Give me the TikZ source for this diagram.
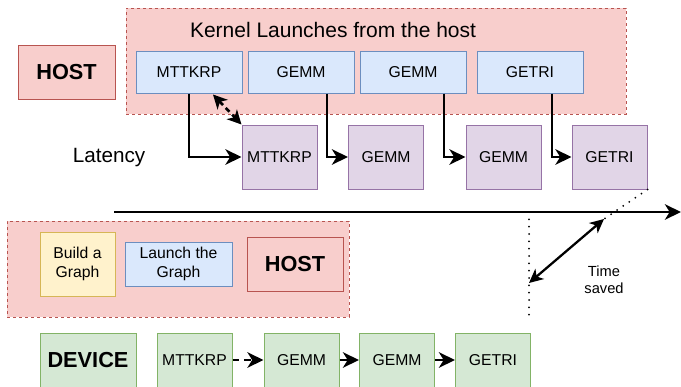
\documentclass[tikz,border=0pt]{standalone}
\usepackage{fontspec}
\setmainfont{Liberation Sans}
\usetikzlibrary{arrows.meta,calc}
\definecolor{redF}{HTML}{F8CECC}\definecolor{redD}{HTML}{B85450}
\definecolor{bluF}{HTML}{DAE8FC}\definecolor{bluD}{HTML}{6C8EBF}
\definecolor{purF}{HTML}{E1D5E7}\definecolor{purD}{HTML}{9673A6}
\definecolor{yelF}{HTML}{FFF2CC}\definecolor{yelD}{HTML}{D6B656}
\definecolor{grnF}{HTML}{D5E8D4}\definecolor{grnD}{HTML}{82B366}
\tikzset{
  boxbase/.style={rectangle, line width=0.75pt, inner sep=0pt, align=center, font=\fontsize{11.8}{14.2}\selectfont},
  container/.style={boxbase, fill=redF, draw=redD, dash pattern=on 2.25pt off 2.25pt},
  redbox/.style={boxbase, fill=redF, draw=redD},
  bluebox/.style={boxbase, fill=bluF, draw=bluD, minimum width=79.5pt, minimum height=31.5pt},
  purbox/.style={boxbase, fill=purF, draw=purD, minimum width=56.25pt, minimum height=48pt},
  grnbox/.style={boxbase, fill=grnF, draw=grnD, minimum width=56.25pt, minimum height=40.5pt},
  bigbold/.style={font=\fontsize{16.3}{19}\selectfont\bfseries},
  arr/.style={line width=2.1pt, -{Stealth[length=12pt,width=11.5pt,inset=3.5pt]}},
  dots/.style={line width=1.5pt, line cap=round, dash pattern=on 0pt off 5.5pt},
}
\begin{document}
\begin{tikzpicture}[x=0.75pt,y=-0.75pt]
\useasboundingbox (0,0) rectangle (681,386);
\clip (0,0) rectangle (681,386);
% top host region
\node[container, minimum width=375pt, minimum height=79.5pt] (hostreg) at (376,61) {};
\node[font=\fontsize{15.75}{18}\selectfont] (title) at (333,30) {Kernel Launches from the host};
\node[redbox, bigbold, minimum width=72.75pt, minimum height=40.5pt] (host1) at (66.5,72) {HOST};
\node[bluebox] (b1) at (189,72) {MTTKRP};
\node[bluebox] (b2) at (301,72) {GEMM};
\node[bluebox] (b3) at (413,72) {GEMM};
\node[bluebox] (b4) at (530,72) {GETRI};
% purple (device execution)
\node[purbox] (p1) at (279.5,157) {MTTKRP};
\node[purbox] (p2) at (386,157) {GEMM};
\node[purbox] (p3) at (503.5,157) {GEMM};
\node[purbox] (p4) at (609.5,157) {GETRI};
\node[font=\fontsize{15.5}{18}\selectfont] (lat) at (109,158) {Latency};
% launch arrows
\draw[arr] (b1.south) |- (p1.west);
\draw[arr] ($(b2.south)+(26,0)$) |- (p2.west);
\draw[arr] ($(b3.south)+(31,0)$) |- (p3.west);
\draw[arr] ($(b4.south)+(22,0)$) |- (p4.west);
\draw[line width=2pt, dash pattern=on 4pt off 3pt, {Stealth[length=10.5pt,width=10.5pt,inset=3pt]}-{Stealth[length=10.5pt,width=10.5pt,inset=3pt]}] ($(b1.south)+(24,1)$) -- (p1.north west);
% time line
\coordinate (t0) at (114,212);
\coordinate (t1) at (681,212);
\draw[line width=2.2pt, -{Stealth[length=12pt,width=11.5pt,inset=3.5pt]}] (t0) -- (t1);
% time saved
\coordinate (ts1) at (604,219);
\coordinate (ts2) at (529,283);
\coordinate (v0) at (529,212);
\coordinate (v1) at (529,317);
\draw[dots] (p4.south east) -- (ts1);
\draw[dots] (v0) -- (v1);
\draw[line width=1.7pt, {Stealth[length=10.5pt,width=10pt,inset=3pt]}-{Stealth[length=10.5pt,width=10pt,inset=3pt]}] (ts1) -- (ts2);
\node[align=center, font=\fontsize{11}{13}\selectfont] (tslab) at (604,280) {Time\\saved};
% bottom host region
\node[container, minimum width=256.5pt, minimum height=72pt] (hostreg2) at (178,269) {};
\node[boxbase, fill=yelF, draw=yelD, minimum width=56.25pt, minimum height=48pt] (build) at (77.5,264) {Build a\\Graph};
\node[boxbase, fill=bluF, draw=bluD, minimum width=80.25pt, minimum height=33pt] (launch) at (178.5,264) {Launch the\\Graph};
\node[redbox, bigbold, minimum width=72pt, minimum height=40.5pt] (host2) at (295,264) {HOST};
% device row
\node[grnbox, bigbold, minimum width=72pt] (dev) at (88,360) {DEVICE};
\node[grnbox] (g1) at (194.5,360) {MTTKRP};
\node[grnbox] (g2) at (301.5,360) {GEMM};
\node[grnbox] (g3) at (397,360) {GEMM};
\node[grnbox] (g4) at (493,360) {GETRI};
\draw[arr, dash pattern=on 5pt off 3.5pt] (g1) -- (g2);
\draw[arr] (g2) -- (g3);
\draw[arr] (g3) -- (g4);
\end{tikzpicture}
\end{document}
